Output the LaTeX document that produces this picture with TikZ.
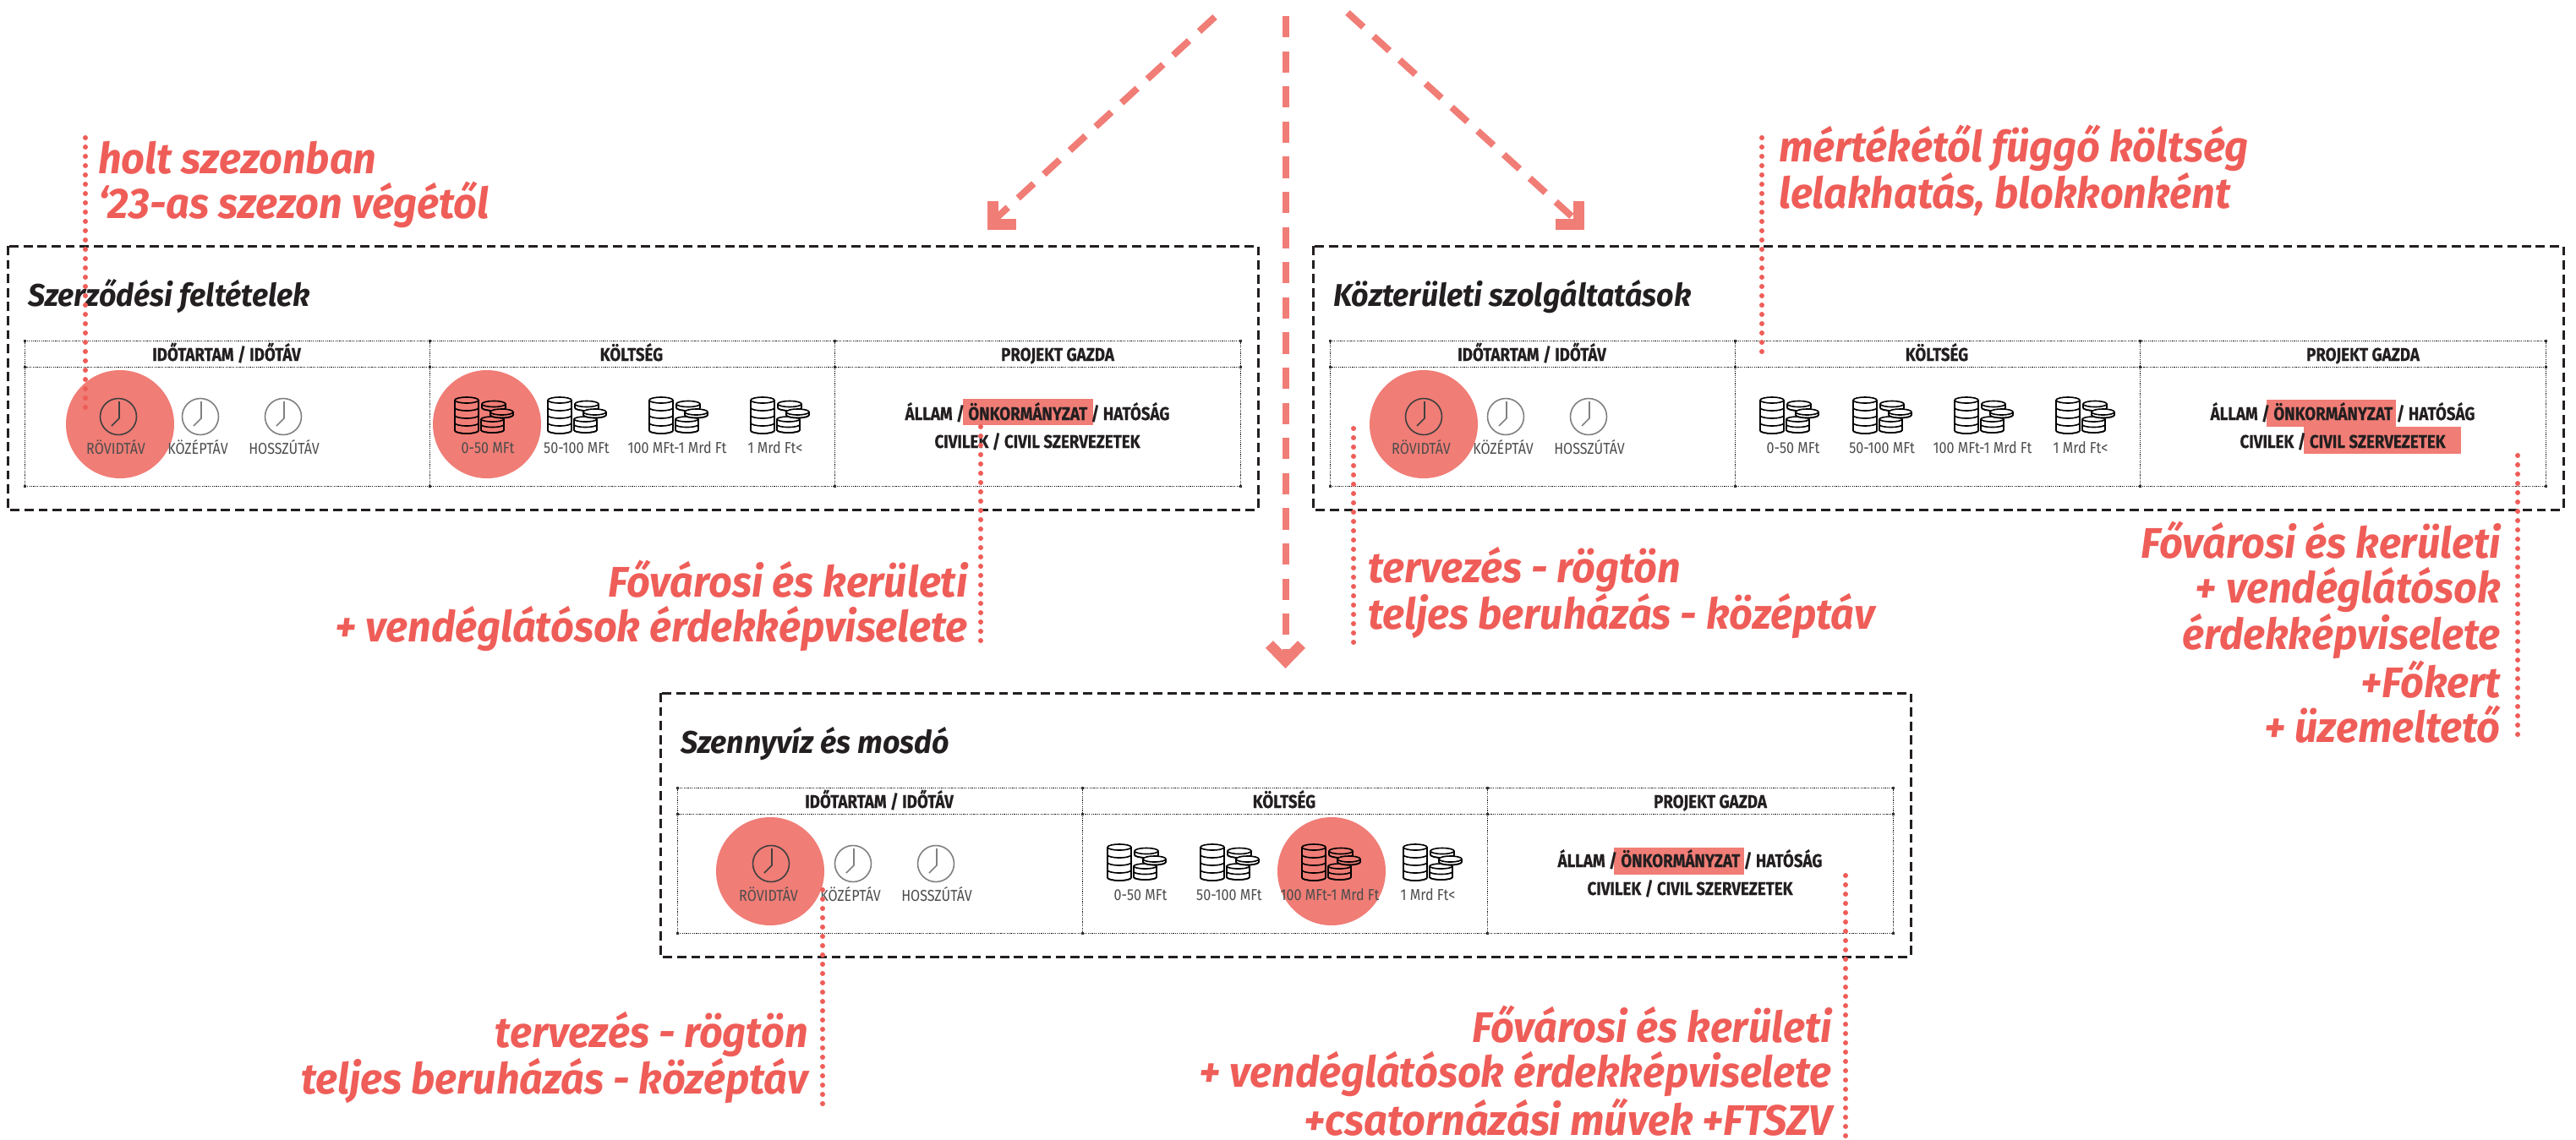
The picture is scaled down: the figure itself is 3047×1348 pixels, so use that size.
\documentclass[tikz,border=0pt]{standalone}
\usepackage{fontspec}
\setmainfont[FakeStretch=0.96]{Fira Sans}
\newfontfamily\labelfont[FakeStretch=0.86,BoldFeatures={FakeBold=0.5}]{Fira Sans}
\definecolor{notered}{HTML}{EF5D58}
\definecolor{hlred}{HTML}{F07D76}
\definecolor{inkblack}{HTML}{231F20}
\tikzset{
	calloutfont/.style={font=\fontsize{36}{37.7}\selectfont\bfseries\itshape,text=notered,inner sep=0pt},
	titlefont/.style={font=\fontsize{26.5}{28}\selectfont\bfseries\itshape,text=inkblack,inner sep=0pt},
	headfont/.style={font=\labelfont\fontsize{15.5}{18}\selectfont\bfseries,text=inkblack,inner sep=0pt,anchor=base},
	smallfont/.style={font=\labelfont\fontsize{13.3}{16}\selectfont,text=black!70,inner sep=0pt,anchor=base},
	dashbox/.style={draw=inkblack,line width=0.75mm,dash pattern=on 2.7mm off 1.45mm},
	tableline/.style={draw=black!90,line width=0.2mm,dash pattern=on 0.3mm off 0.3mm},
	dotline/.style={draw=notered,line width=1.5mm,line cap=round,dash pattern=on 0pt off 2.75mm},
	arrowline/.style={draw=hlred,line width=2mm,dash pattern=on 6.3mm off 4.1mm},
	arrowhead/.style={draw=hlred,line width=3.1mm,line join=miter,miter limit=10},
	hlcircle/.style={fill=hlred,draw=none},
	coinline/.style={draw=black,line width=0.4mm},
}
\newcommand\coinstack[7]{%
	\filldraw[coinline,fill=#7] (#1-#3,#2) -- ++(0,#6*#5) arc[start angle=180,end angle=0,x radius=#3,y radius=#4] -- (#1+#3,#2);
	\filldraw[coinline,fill=#7] (#1,#2) ellipse[x radius=#3,y radius=#4];
	\foreach \k in {1,...,#6} \draw[coinline] (#1-#3,{#2+\k*#5}) arc[start angle=180,end angle=0,x radius=#3,y radius=#4];
}
\newcommand\coinicon[3]{%
	\begin{scope}[shift={(#1,#2)}]
		\coinstack{14}{3.5}{14}{3.5}{9}{4}{#3}
		\coinstack{44.5}{26}{13.5}{3}{6.5}{2}{#3}
		\coinstack{46}{8}{14}{3.5}{4.5}{1}{#3}
		\coinstack{55.5}{17.5}{13.5}{3.5}{3.5}{1}{#3}
	\end{scope}
}
\newcommand\clockicon[3]{%
	\draw[draw=#3,line width=0.4mm] (#1,#2) circle (21.5);
	\draw[draw=#3,line width=0.4mm] (#1+1,#2-18) -- (#1+1,#2+2) -- (#1-8,#2+11);
}
\newcommand\panel[3]{%
	\draw[dashbox] (9,291) rectangle (1488,603);
	\draw[tableline] (29,403) rectangle (1467,575);
	\draw[tableline] (29,434) -- (1467,434);
	\draw[tableline] (508,403) -- (508,575);
	\draw[tableline] (987,403) -- (987,575);
	\foreach \mx in {29,508,987,1467}
		\foreach \my in {403,434,575}
			\fill[black!80] (\mx-1.5,\my-1.5) rectangle (\mx+1.5,\my+1.5);
	\node[titlefont,anchor=base west] (#1title) at (33,362) {#2};
	\node[headfont] (#1time) at (268,427) {IDŐTARTAM / IDŐTÁV};
	\node[headfont] (#1cost) at (747,427) {KÖLTSÉG};
	\node[headfont] (#1owner) at (1251,427) {PROJEKT GAZDA};
	\clockicon{140}{493}{black!75}
	\clockicon{237}{493}{black!50}
	\clockicon{335}{493}{black!50}
	\node[smallfont] (#1short) at (137,537) {RÖVIDTÁV};
	\node[smallfont] (#1mid) at (234,537) {KÖZÉPTÁV};
	\node[smallfont] (#1long) at (336,537) {HOSSZÚTÁV};
	\foreach \cx/\lx/\lab [count=\i] in {538/577/0-50 MFt,648/682/50-100 MFt,768/801/100 MFt-1 Mrd Ft,888/917/1 Mrd Ft<}{
		\ifnum\i=#3\def\coinfill{hlred}\else\def\coinfill{white}\fi
		\coinicon{\cx}{470}{\coinfill}
		\node[smallfont] (#1coin\i) at (\lx,536) {\lab};
	}
	\node[headfont] (#1state) at (1227,497) {ÁLLAM / ÖNKORMÁNYZAT / HATÓSÁG};
	\node[headfont] (#1civil) at (1227,530) {CIVILEK / CIVIL SZERVEZETEK};
}
\begin{document}
\begin{tikzpicture}[x=0.25mm,y=-0.25mm]
	\useasboundingbox (0,0) rectangle (3047,1348);
	\coordinate (Lstart) at (1437,20);
	\coordinate (Lend) at (1172,264);
	\coordinate (Mstart) at (1520.5,19);
	\coordinate (Mend) at (1520.5,782);
	\coordinate (Rstart) at (1594,15);
	\coordinate (Rend) at (1870,266);
	\draw[arrowline] (Lstart) -- (Lend);
	\draw[arrowline] (Mstart) -- (Mend);
	\draw[arrowline] (Rstart) -- (Rend);
	\draw[arrowhead] (1174.5,238) -- (1174.5,265.5) -- (1202,265.5);
	\draw[arrowhead] (1501.5,762.5) -- (1520.5,782) -- (1539.5,762.5);
	\draw[arrowhead] (1867.5,238) -- (1867.5,265.5) -- (1840,265.5);
	\begin{scope}
		\fill[hlcircle] (142,502) circle (64);
		\fill[hlcircle] (576,502) circle (64);
		\fill[hlcircle] (1139,472) rectangle (1293,503);
		\panel{a}{Szerződési feltételek}{1}
	\end{scope}
	\begin{scope}[shift={(1544,0)}]
		\fill[hlcircle] (140,502) circle (64);
		\fill[hlcircle] (1137,473) rectangle (1290,505);
		\fill[hlcircle] (1181,505) rectangle (1367,537);
		\panel{b}{Közterületi szolgáltatások}{0}
	\end{scope}
	\begin{scope}[shift={(772,529)}]
		\fill[hlcircle] (139,502) circle (64);
		\fill[hlcircle] (803,502) circle (64);
		\fill[hlcircle] (1137,474) rectangle (1291,506);
		\panel{c}{Szennyvíz és mosdó}{3}
	\end{scope}
	\coordinate (Astart) at (101,163);
	\coordinate (Aend) at (101,487);
	\coordinate (Bstart) at (1160,505);
	\coordinate (Bend) at (1160,765);
	\coordinate (Cstart) at (2084,163);
	\coordinate (Cend) at (2084,419);
	\coordinate (Dstart) at (1601,507);
	\coordinate (Dend) at (1601,767);
	\coordinate (Estart) at (2978,539);
	\coordinate (Eend) at (2978,876);
	\coordinate (Fstart) at (973,1053);
	\coordinate (Fend) at (973,1312);
	\coordinate (Gstart) at (2183,1036);
	\coordinate (Gend) at (2183,1346);
	\foreach \s/\e in {Astart/Aend,Bstart/Bend,Cstart/Cend,Dstart/Dend,Estart/Eend,Fstart/Fend,Gstart/Gend}
		\draw[dotline] (\s) -- (\e);
	\node[calloutfont,align=left,anchor=base west] (noteA) at (116,258) {holt szezonban\\‘23-as szezon végétől};
	\node[calloutfont,align=right,anchor=base east] (noteB) at (1145,759) {Fővárosi és kerületi\\+ vendéglátósok érdekképviselete};
	\node[calloutfont,align=left,anchor=base west] (noteC) at (2104,246) {mértékétől függő költség\\lelakhatás, blokkonként};
	\node[calloutfont,align=left,anchor=base west] (noteD) at (1618,744) {tervezés - rögtön\\teljes beruházás - középtáv};
	\node[calloutfont,align=right,anchor=base east] (noteE) at (2958,878) {Fővárosi és kerületi\\+ vendéglátósok\\érdekképviselete\\+Főkert\\+ üzemeltető};
	\node[calloutfont,align=right,anchor=base east] (noteF) at (956,1294) {tervezés - rögtön\\teljes beruházás - középtáv};
	\node[calloutfont,align=right,anchor=base east] (noteG) at (2167,1343) {Fővárosi és kerületi\\+ vendéglátósok érdekképviselete\\+csatornázási művek +FTSZV};
\end{tikzpicture}
\end{document}
